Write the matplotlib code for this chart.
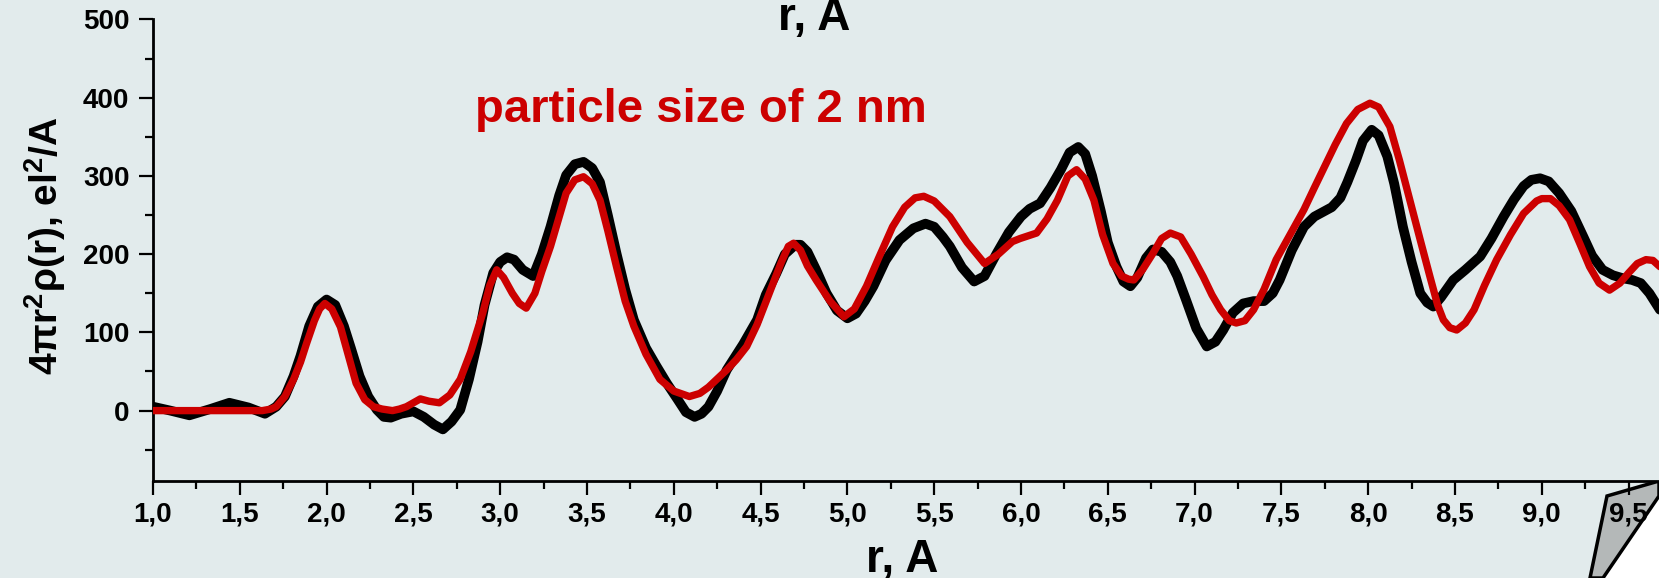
import matplotlib
matplotlib.use("Agg")
import matplotlib.pyplot as plt
from matplotlib.patches import Polygon
from matplotlib.ticker import MultipleLocator, FixedLocator

#data (black curve)
r_black = [1.0, 1.1, 1.21, 1.33, 1.44, 1.55, 1.645, 1.71, 1.76, 1.81, 1.85, 1.90, 1.95, 2.0,
           2.05, 2.10, 2.14, 2.19, 2.24, 2.29, 2.33, 2.37, 2.43, 2.50, 2.56, 2.62, 2.67, 2.72,
           2.77, 2.82, 2.87, 2.91, 2.96, 3.0, 3.04, 3.08, 3.13, 3.19, 3.24, 3.29, 3.34, 3.38,
           3.43, 3.48, 3.53, 3.575, 3.62, 3.67, 3.72, 3.77, 3.84, 3.90, 3.96, 4.02, 4.07, 4.12,
           4.16, 4.20, 4.25, 4.305, 4.40, 4.48, 4.53, 4.59, 4.64, 4.70, 4.73, 4.77, 4.82, 4.88,
           4.94, 5.0, 5.05, 5.10, 5.15, 5.22, 5.30, 5.38, 5.45, 5.50, 5.55, 5.59, 5.66, 5.73,
           5.79, 5.86, 5.93, 6.0, 6.05, 6.11, 6.17, 6.23, 6.28, 6.33, 6.37, 6.41, 6.46, 6.50,
           6.55, 6.59, 6.63, 6.67, 6.72, 6.76, 6.81, 6.86, 6.90, 6.95, 7.01, 7.07, 7.12, 7.165,
           7.22, 7.28, 7.34, 7.40, 7.45, 7.49, 7.56, 7.63, 7.69, 7.74, 7.79, 7.84, 7.88, 7.93,
           7.97, 8.02, 8.06, 8.11, 8.15, 8.20, 8.25, 8.30, 8.34, 8.375, 8.42, 8.49, 8.56, 8.645,
           8.71, 8.78, 8.84, 8.895, 8.94, 8.99, 9.04, 9.10, 9.17, 9.24, 9.29, 9.35, 9.41, 9.47,
           9.52, 9.57, 9.62, 9.68]
g_black = [5, 0, -6, 2, 10, 4, -4, 5, 18, 44, 70, 108, 133, 142,
           135, 108, 80, 44, 18, 1, -8, -9, -4, -1, -8, -18, -24, -14,
           1, 40, 88, 135, 176, 190, 196, 193, 180, 172, 200, 235, 275, 301,
           315, 318, 310, 292, 250, 201, 155, 116, 80, 57, 35, 15, -2, -8,
           -4, 5, 25, 52, 85, 116, 148, 175, 200, 212, 212, 203, 180, 150,
           128, 118, 124, 140, 159, 192, 218, 233, 239, 235, 222, 210, 183, 165,
           172, 201, 228, 248, 258, 265, 285, 308, 330, 337, 328, 300, 255, 215,
           184, 165, 159, 170, 195, 206, 203, 190, 172, 142, 105, 82, 88, 103,
           125, 137, 140, 140, 150, 167, 205, 235, 248, 254, 260, 272, 292, 320,
           345, 359, 352, 325, 290, 235, 190, 150, 138, 133, 145, 167, 180, 197,
           220, 248, 270, 287, 295, 297, 293, 278, 255, 222, 198, 180, 173, 169,
           167, 163, 150, 129]

#red curve, particle size of 2 nm
r_red = [1.0, 1.3, 1.63, 1.68, 1.71, 1.76, 1.81, 1.85, 1.885, 1.93, 1.96, 1.99, 2.03, 2.08,
         2.12, 2.17, 2.22, 2.27, 2.32, 2.38, 2.42, 2.46, 2.50, 2.54, 2.59, 2.65, 2.71, 2.77,
         2.83, 2.90, 2.94, 2.98, 3.02, 3.07, 3.11, 3.15, 3.20, 3.24, 3.29, 3.34, 3.38, 3.43,
         3.48, 3.53, 3.575, 3.62, 3.67, 3.72, 3.77, 3.84, 3.92, 4.0, 4.09, 4.15, 4.20, 4.305,
         4.36, 4.42, 4.48, 4.55, 4.62, 4.66, 4.69, 4.73, 4.77, 4.82, 4.90, 4.98, 5.04, 5.11,
         5.18, 5.26, 5.33, 5.39, 5.44, 5.50, 5.59, 5.69, 5.79, 5.87, 5.95, 5.995, 6.09, 6.15,
         6.21, 6.27, 6.32, 6.37, 6.42, 6.47, 6.53, 6.58, 6.62, 6.65, 6.70, 6.76, 6.81, 6.86,
         6.92, 6.98, 7.05, 7.10, 7.15, 7.20, 7.24, 7.29, 7.34, 7.40, 7.47, 7.55, 7.63, 7.69,
         7.74, 7.81, 7.875, 7.94, 8.01, 8.06, 8.125, 8.18, 8.24, 8.30, 8.356, 8.40, 8.433, 8.47,
         8.51, 8.56, 8.61, 8.67, 8.74, 8.82, 8.895, 8.97, 9.0, 9.05, 9.10, 9.16, 9.22, 9.275,
         9.33, 9.39, 9.45, 9.50, 9.55, 9.60, 9.64, 9.68]
g_red = [0, 0, 0, 2, 5, 18, 40, 62, 86, 115, 130, 137, 130, 107,
         75, 35, 14, 5, 2, 0, 2, 5, 10, 15, 12, 10, 20, 40,
         75, 125, 160, 180, 170, 150, 137, 131, 150, 178, 210, 248, 278, 295,
         299, 290, 269, 230, 184, 140, 108, 72, 40, 25, 18, 22, 30, 52,
         65, 82, 110, 150, 190, 210, 214, 205, 185, 167, 140, 120, 130, 159,
         195, 235, 260, 272, 274, 268, 248, 215, 188, 200, 216, 220, 227, 245,
         269, 300, 308, 296, 269, 225, 188, 172, 168, 167, 180, 201, 220, 227,
         222, 200, 171, 148, 129, 115, 112, 115, 129, 155, 193, 225, 257, 285,
         308, 340, 367, 385, 393, 388, 363, 320, 269, 218, 171, 135, 116, 106,
         103, 112, 129, 160, 193, 225, 252, 268, 271, 271, 262, 244, 213, 184,
         163, 154, 163, 176, 188, 193, 192, 184]

x_ticks = [1.0, 1.5, 2.0, 2.5, 3.0, 3.5, 4.0, 4.5, 5.0, 5.5, 6.0, 6.5, 7.0, 7.5, 8.0, 8.5, 9.0, 9.5]
x_labels = ["1,0", "1,5", "2,0", "2,5", "3,0", "3,5", "4,0", "4,5", "5,0", "5,5",
            "6,0", "6,5", "7,0", "7,5", "8,0", "8,5", "9,0", "9,5"]
y_ticks = [0, 100, 200, 300, 400, 500]

bg = "#e2ebec"
red = "#cc0000"

plt.rcParams["font.family"] = ["Liberation Sans", "DejaVu Sans"]
plt.rcParams["font.weight"] = "bold"
plt.rcParams["mathtext.fontset"] = "custom"
plt.rcParams["mathtext.rm"] = "Liberation Sans:bold"
plt.rcParams["mathtext.it"] = "Liberation Sans"
plt.rcParams["mathtext.bf"] = "Liberation Sans:bold"

fig = plt.figure(figsize=(16.59, 5.78), dpi=100)
fig.patch.set_facecolor(bg)

#axes reach past the right edge like the cropped slide
ax = fig.add_axes([0.0922, 0.1678, 0.9418, 0.7985])
ax.set_facecolor(bg)
ax.set_zorder(2)

ax.plot(r_black, g_black, color="black", lw=7, solid_joinstyle="round", solid_capstyle="round", zorder=2)
ax.plot(r_red, g_red, color=red, lw=5.3, solid_joinstyle="round", solid_capstyle="round", zorder=3)

ax.set_xlim(1.0, 10.0)
ax.set_ylim(-90, 500)

ax.xaxis.set_major_locator(FixedLocator(x_ticks))
ax.set_xticklabels(x_labels)
ax.xaxis.set_minor_locator(MultipleLocator(0.25))
ax.yaxis.set_major_locator(FixedLocator(y_ticks))
ax.yaxis.set_minor_locator(MultipleLocator(50))

ax.tick_params(which="major", length=10, width=1.6, labelsize=20, pad=5)
ax.tick_params(which="minor", length=6, width=1.6)
ax.tick_params(axis="y", which="major", pad=7)
for lab in ax.get_xticklabels() + ax.get_yticklabels():
    lab.set_fontweight("bold")

ax.spines["top"].set_visible(False)
ax.spines["right"].set_visible(False)
ax.spines["left"].set_linewidth(2)
ax.spines["bottom"].set_linewidth(2)

#labels
fig.text(0.544, 0.0104, "r, A", fontsize=33, fontweight="bold", ha="center", va="baseline")
fig.text(0.4907, 0.948, "r, A", fontsize=33, fontweight="bold", ha="center", va="baseline")
fig.text(0.027, 0.575, r"4$\pi$r$^{2}$$\rho$(r), el$^{2}$/A", fontsize=28, fontweight="bold",
         rotation=90, ha="center", va="center")
fig.text(0.2863, 1 - 121.7 / 578, "particle size of 2 nm", fontsize=34, fontweight="bold",
         color=red, ha="left", va="baseline")

#page curl in the corner, behind the tick labels
W, H = 1659, 578
curl = [(1607, 496), (1659, 481), (1659, 496), (1603, 578), (1590, 578)]
white = [(1659, 496), (1659, 578), (1603, 578)]
fig.patches.append(Polygon([(x / W, 1 - y / H) for x, y in white], closed=True,
                           transform=fig.transFigure, facecolor="white", edgecolor="none", zorder=0))
fig.patches.append(Polygon([(x / W, 1 - y / H) for x, y in curl], closed=True,
                           transform=fig.transFigure, facecolor="#b4b8b8", edgecolor="black", lw=2.5, zorder=1))

fig.savefig("out.png", dpi=100, facecolor=bg)
